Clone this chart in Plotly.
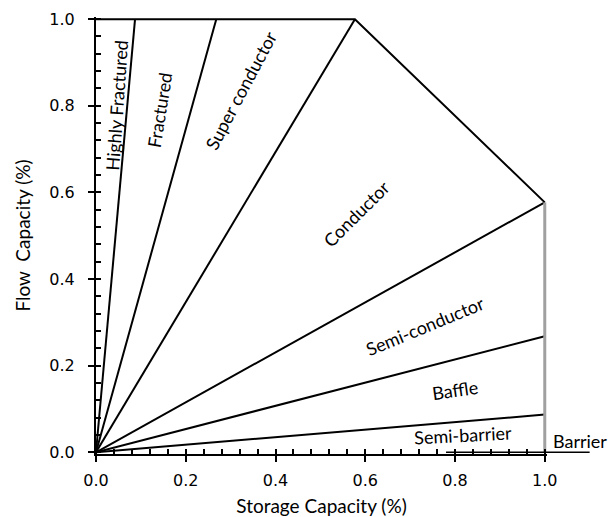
import plotly.graph_objects as go

# Boundary lines from the origin: storage / flow end points
boundary_x = [0.087, 0.268, 0.577, 1.0, 1.0, 1.0]
boundary_y = [1.0, 1.0, 1.0, 0.577, 0.268, 0.087]

# Outer envelope: top edge and the diagonal cut-off
envelope_x = [0.0, 0.577, 1.0]
envelope_y = [1.0, 1.0, 0.577]

# Grey limit at full storage capacity
limit_x = [1.0, 1.0]
limit_y = [0.0, 0.577]

# Barrier segment along the x axis (extends past 1.0)
barrier_x = [0.78, 1.10]
barrier_y = [0.0, 0.0]

# Region labels: text, position, rotation
region_names = ["Highly Fractured", "Fractured", "Super conductor", "Conductor",
                "Semi-conductor", "Baffle", "Semi-barrier", "Barrier"]
region_x = [0.046, 0.142, 0.323, 0.579, 0.733, 0.800, 0.818, 1.079]
region_y = [0.802, 0.790, 0.837, 0.551, 0.292, 0.144, 0.041, 0.025]
region_angle = [-86, -81, -62, -45, -22.5, -8, -3, 0]
region_xref = ["x", "x", "x", "x", "x", "x", "x", "x3"]

major_ticks = [0.0, 0.2, 0.4, 0.6, 0.8, 1.0]
tick_text = ["0.0", "0.2", "0.4", "0.6", "0.8", "1.0"]
minor_ticks = [round(i * 0.04, 2) for i in range(26)]

TICK_FONT = "DejaVu Sans"
TEXT_FONT = "Lato"

# Plot area geometry (px): the main axis spans part of a wider strip so the
# barrier segment can run beyond x = 1.0 without being clipped.
AREA_W = 611 - 96
MAIN_W = 451
X_MAX = 1.005
x_frac = MAIN_W / AREA_W

fig = go.Figure()

for bx, by in zip(boundary_x, boundary_y):
    fig.add_trace(go.Scatter(x=[0, bx], y=[0, by], mode="lines",
                             line=dict(color="black", width=2),
                             showlegend=False, hoverinfo="skip"))

fig.add_trace(go.Scatter(x=envelope_x, y=envelope_y, mode="lines",
                         line=dict(color="black", width=2),
                         showlegend=False, hoverinfo="skip"))

fig.add_trace(go.Scatter(x=limit_x, y=limit_y, mode="lines",
                         line=dict(color="#a0a0a0", width=3),
                         showlegend=False, hoverinfo="skip"))

fig.add_trace(go.Scatter(x=barrier_x, y=barrier_y, mode="lines", xaxis="x3", yaxis="y",
                         line=dict(color="black", width=1.5),
                         showlegend=False, hoverinfo="skip"))

for name, rx, ry, ang, xr in zip(region_names, region_x, region_y, region_angle, region_xref):
    fig.add_annotation(x=rx, y=ry, xref=xr, yref="y", text=name, showarrow=False,
                       textangle=ang, font=dict(family=TEXT_FONT, size=18, color="black"))

axis_common = dict(showgrid=False, zeroline=False, showline=True, automargin=False,
                   linecolor="black", linewidth=2,
                   ticks="outside", ticklen=6, tickwidth=2, tickcolor="black",
                   tickvals=major_ticks, ticktext=tick_text,
                   tickfont=dict(family=TICK_FONT, size=16, color="black"),
                   minor=dict(tickvals=minor_ticks, ticks="inside", ticklen=5,
                              tickwidth=2, tickcolor="black", showgrid=False))

fig.update_layout(
    width=611, height=517,
    margin=dict(l=96, r=0, t=17, b=63),
    plot_bgcolor="rgba(0,0,0,0)", paper_bgcolor="white",
    font=dict(family=TEXT_FONT, size=18, color="black"),
    xaxis=dict(range=[0, X_MAX], domain=[0, x_frac], anchor="y",
               ticklabelstandoff=5,
               title=dict(text="Storage Capacity (%)", standoff=17,
                          font=dict(family=TEXT_FONT, size=19)),
               **axis_common),
    yaxis=dict(range=[-0.004, X_MAX], anchor="x",
               ticklabelstandoff=10,
               title=dict(text="Flow  Capacity (%)", standoff=14,
                          font=dict(family=TEXT_FONT, size=19)),
               **axis_common),
    xaxis3=dict(range=[0, X_MAX / x_frac], domain=[0, 1], anchor="y",
                visible=False, automargin=False),
)

fig.write_html("out.html")
